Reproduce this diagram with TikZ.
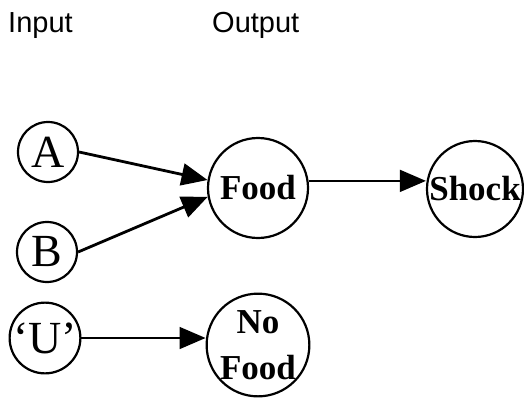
\documentclass[tikz,border=0pt]{standalone}
\usepackage{fontspec}
\setmainfont{Liberation Serif}
\newfontfamily\labelsans{Liberation Sans}
\usetikzlibrary{arrows.meta}
\begin{document}
\begin{tikzpicture}[x=1pt,y=-1pt,
  state/.style={circle,draw,line width=2.2pt,inner sep=0pt},
  smallstate/.style={state,minimum size=60pt,font=\fontsize{46}{46}\selectfont},
  bigstate/.style={state,minimum size=100pt,font=\bfseries\fontsize{35}{46}\selectfont,align=center},
  conn/.style={line width=1.6pt,-{Triangle[length=26pt,width=22pt]}},
  thickconn/.style={conn,line width=2.8pt},
  head/.style={font=\labelsans\fontsize{29}{29}\selectfont,anchor=base west,inner sep=0pt}]
\useasboundingbox (0,0) rectangle (524,399);
\node[head] (in) at (8,32) {Input};
\node[head] (out) at (212,32) {Output};
\node[smallstate] (A) at (48,152) {A};
\node[smallstate] (B) at (47,252) {B};
\node[smallstate] (U) at (45,338) {‘U’};
\node[bigstate] (Food) at (258,188) {Food};
\node[bigstate,minimum size=96pt] (Shock) at (475,189) {Shock};
\node[bigstate,minimum size=102pt] (NoFood) at (258,345) {No\\Food};
\draw[thickconn] (A.east) -- (Food.171);
\draw[thickconn] (B.east) -- (Food.190);
\draw[conn] (Food.8) -- (Food.8 -| Shock.west);
\draw[conn] (U.east) -- (NoFood.west |- U.east);
\end{tikzpicture}
\end{document}
